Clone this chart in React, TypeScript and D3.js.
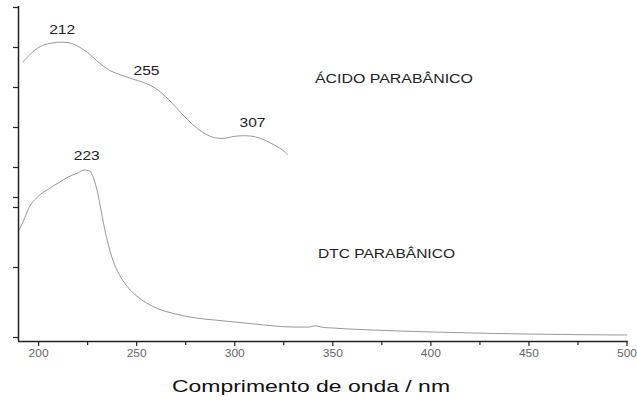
import React from "react";
import * as d3 from "d3";

// top curve: acido parabanico (wavelength nm, absorbance, arbitrary offset panel)
const acidoNm = [192, 197, 202, 207, 211, 216, 220, 225, 231, 236, 242, 248, 253, 257, 261, 266, 271, 276, 281, 286, 291, 295, 299, 303, 306, 310, 315, 319, 322, 325, 327];
const acidoAbs = [1.81, 1.94, 2.02, 2.05, 2.06, 2.05, 2.01, 1.93, 1.8, 1.71, 1.65, 1.6, 1.56, 1.52, 1.46, 1.35, 1.22, 1.09, 0.98, 0.9, 0.86, 0.86, 0.88, 0.89, 0.89, 0.88, 0.84, 0.79, 0.75, 0.7, 0.65];

// bottom curve: DTC parabanico
const dtcNm = [190, 192, 195, 200, 205, 210, 215, 220, 223, 226, 228, 230, 232, 234, 236, 238, 241, 245, 250, 255, 260, 270, 280, 290, 300, 310, 320, 330, 338, 341, 344, 350, 370, 400, 450, 500];
const dtcAbs = [0.764, 0.821, 0.921, 1.007, 1.057, 1.1, 1.143, 1.171, 1.193, 1.186, 1.136, 1.036, 0.893, 0.75, 0.636, 0.543, 0.45, 0.364, 0.293, 0.243, 0.207, 0.164, 0.136, 0.121, 0.107, 0.093, 0.079, 0.071, 0.071, 0.08, 0.071, 0.064, 0.05, 0.036, 0.021, 0.014];

const xTicks = [200, 250, 300, 350, 400, 450, 500];
const xMinor = [225, 275, 325, 375, 425, 475];
const topTicks = [0, 0.5, 1, 1.5, 2, 2.5];
const botTicks = [0, 0.5, 1];

const peakLabels = [
  { series: "acido", nm: 212, text: "212" },
  { series: "acido", nm: 255, text: "255" },
  { series: "acido", nm: 307, text: "307" },
  { series: "dtc", nm: 223, text: "223" },
];

export default function App() {
  const W = 637;
  const H = 401;
  const x = d3.scaleLinear().domain([190, 500]).range([19, 627]);
  const yTop = d3.scaleLinear().domain([0, 2]).range([207, 47]);
  const yBot = d3.scaleLinear().domain([0, 1]).range([337, 197]);
  const axisY = 341;

  const acido = acidoNm.map((n, i) => [n, acidoAbs[i]] as [number, number]);
  const dtc = dtcNm.map((n, i) => [n, dtcAbs[i]] as [number, number]);

  const lineTop = d3.line<[number, number]>().x((d) => x(d[0])).y((d) => yTop(d[1])).curve(d3.curveCatmullRom);
  const lineBot = d3.line<[number, number]>().x((d) => x(d[0])).y((d) => yBot(d[1])).curve(d3.curveMonotoneX);

  const font = "Arial, 'Liberation Sans', sans-serif";
  const labelPos: Record<string, { dx: number; y: number }> = {
    "212": { dx: 0, y: 34 },
    "255": { dx: 0, y: 75 },
    "307": { dx: 4, y: 127 },
    "223": { dx: 3, y: 160 },
  };

  return (
    <svg width={W} height={H} style={{ position: "absolute", left: 0, top: 0 }} fontFamily={font}>
      <rect width={W} height={H} fill="#fff" />
      <path d={lineTop(acido) || ""} fill="none" stroke="#999" strokeWidth={1} />
      <path d={lineBot(dtc) || ""} fill="none" stroke="#999" strokeWidth={1} />

      {/* y axis */}
      <line x1={18.5} x2={18.5} y1={6} y2={axisY} stroke="#222" strokeWidth={1.5} />
      {topTicks.map((t) => (
        <line key={"t" + t} x1={13} x2={18.5} y1={Math.round(yTop(t)) + 0.5} y2={Math.round(yTop(t)) + 0.5} stroke="#222" strokeWidth={1.2} />
      ))}
      {botTicks.map((t) => (
        <line key={"b" + t} x1={13} x2={18.5} y1={Math.round(yBot(t)) + 0.5} y2={Math.round(yBot(t)) + 0.5} stroke="#222" strokeWidth={1.2} />
      ))}

      {/* x axis */}
      <line x1={18} x2={627.5} y1={axisY + 0.5} y2={axisY + 0.5} stroke="#222" strokeWidth={1.5} />
      {xTicks.map((t) => (
        <g key={t}>
          <line x1={x(t)} x2={x(t)} y1={axisY} y2={axisY + 5} stroke="#222" strokeWidth={1.2} />
          <text x={x(t)} y={357} textAnchor="middle" fontSize={10} fill="#666" textLength={20} lengthAdjust="spacingAndGlyphs">
            {t}
          </text>
        </g>
      ))}
      {xMinor.map((t) => (
        <line key={"m" + t} x1={x(t)} x2={x(t)} y1={axisY} y2={axisY + 4} stroke="#222" strokeWidth={1.2} />
      ))}

      {peakLabels.map((p) => (
        <text
          key={p.text}
          x={x(p.nm) + labelPos[p.text].dx}
          y={labelPos[p.text].y}
          textAnchor="middle"
          fontSize={12}
          fill="#222"
          textLength={26}
          lengthAdjust="spacingAndGlyphs"
        >
          {p.text}
        </text>
      ))}

      <text x={315} y={83} fontSize={12} fill="#222" textLength={158} lengthAdjust="spacingAndGlyphs">
        ÁCIDO PARABÂNICO
      </text>
      <text x={318} y={258} fontSize={12} fill="#222" textLength={137} lengthAdjust="spacingAndGlyphs">
        DTC PARABÂNICO
      </text>
      <text x={172} y={392} fontSize={17} fill="#111" textLength={278} lengthAdjust="spacingAndGlyphs">
        Comprimento de onda / nm
      </text>
    </svg>
  );
}
